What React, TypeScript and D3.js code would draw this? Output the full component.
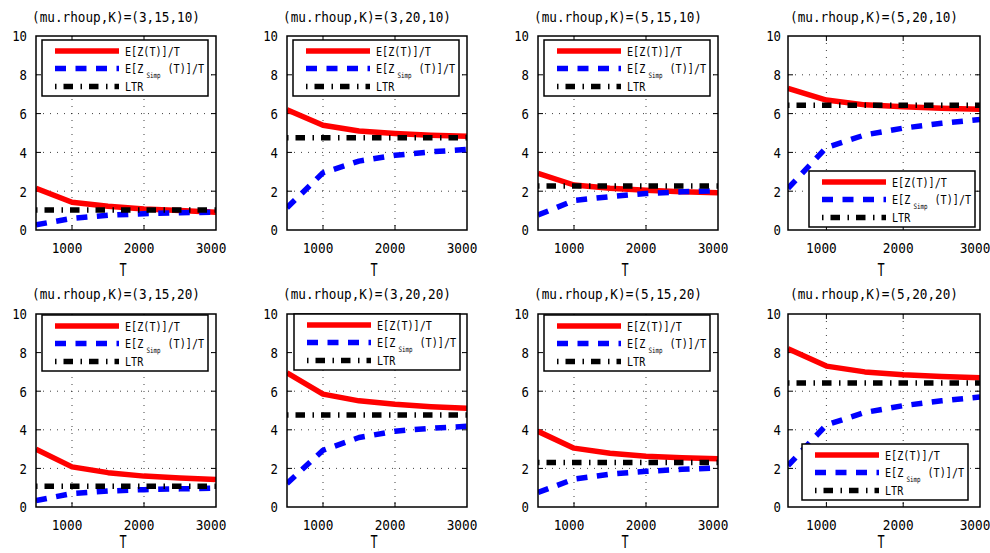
import React from 'react';
import * as d3 from 'd3';

// ---- data ----
const T_VALUES = [500, 1000, 1500, 2000, 2500, 3000];
const X_TICKS = [1000, 2000, 3000];
const Y_TICKS = [0, 2, 4, 6, 8, 10];
const GRID_X = [1000, 2000];
const GRID_Y = [2, 4, 6, 8];

const PANEL_TITLES = [
  '(mu.rhoup,K)=(3,15,10)',
  '(mu.rhoup,K)=(3,20,10)',
  '(mu.rhoup,K)=(5,15,10)',
  '(mu.rhoup,K)=(5,20,10)',
  '(mu.rhoup,K)=(3,15,20)',
  '(mu.rhoup,K)=(3,20,20)',
  '(mu.rhoup,K)=(5,15,20)',
  '(mu.rhoup,K)=(5,20,20)',
];

// E[Z(T)]/T
const EZ_T = [
  [2.15, 1.43, 1.22, 1.08, 1.0, 0.92],
  [6.2, 5.4, 5.1, 4.97, 4.88, 4.83],
  [2.92, 2.32, 2.15, 2.05, 1.97, 1.92],
  [7.3, 6.7, 6.45, 6.35, 6.27, 6.22],
  [3.0, 2.08, 1.78, 1.6, 1.5, 1.43],
  [6.95, 5.85, 5.5, 5.32, 5.2, 5.12],
  [3.92, 3.05, 2.78, 2.63, 2.55, 2.5],
  [8.2, 7.3, 7.0, 6.85, 6.76, 6.7],
];

// E[Z_Simp(T)]/T
const EZ_SIMP = [
  [0.27, 0.6, 0.76, 0.84, 0.89, 0.92],
  [1.15, 2.95, 3.55, 3.85, 4.03, 4.15],
  [0.77, 1.52, 1.72, 1.88, 1.97, 2.03],
  [2.15, 4.25, 4.9, 5.25, 5.5, 5.7],
  [0.33, 0.7, 0.83, 0.9, 0.94, 0.98],
  [1.22, 2.94, 3.6, 3.93, 4.08, 4.18],
  [0.75, 1.45, 1.7, 1.85, 1.95, 2.03],
  [2.15, 4.25, 4.9, 5.25, 5.5, 5.7],
];

// LTR
const LTR = [1.03, 4.75, 2.27, 6.43, 1.08, 4.77, 2.3, 6.43];

// ---- layout ----
const COLS = [
  [36, 216],
  [287, 467],
  [538, 718],
  [788, 980],
];
const ROWS = [
  { top: 36, bottom: 230, title: 22, tick: 253, label: 276 },
  { top: 314, bottom: 507, title: 299, tick: 530, label: 548 },
];
const LEGEND_POS = [
  [42, 40],
  [293, 40],
  [544, 40],
  [809, 171],
  [42, 315],
  [294, 314],
  [544, 315],
  [802, 444],
];
const LEG_W = 166;
const LEG_H = 56;

const FONT = '"DejaVu Sans Mono", monospace';
const RED = '#ff0000';
const BLUE = '#0000ff';
const LW = 5.5;
const BLUE_DASH = '11,9.5';
const BLACK_DASH = '1.5,7,9.5,7.5';

function STxt(props: {
  x: number;
  y: number;
  sx: number;
  size: number;
  anchor?: string;
  children: React.ReactNode;
}) {
  const { x, y, sx, size, anchor, children } = props;
  return (
    <text
      transform={`translate(${x},${y}) scale(${sx},1)`}
      fontFamily={FONT}
      fontSize={size}
      textAnchor={anchor || 'start'}
      fill="#000"
    >
      {children}
    </text>
  );
}

function Panel({ idx }: { idx: number }) {
  const col = COLS[idx % 4];
  const row = ROWS[Math.floor(idx / 4)];
  const x = d3.scaleLinear().domain([500, 3000]).range([col[0], col[1]]);
  const y = d3.scaleLinear().domain([0, 10]).range([row.bottom, row.top]);
  const line = d3
    .line<number>()
    .x((_, i) => x(T_VALUES[i]))
    .y((d) => y(d));
  const ltrLine = d3
    .line<number>()
    .x((d) => x(d))
    .y(() => y(LTR[idx]));
  const clipId = `clip${idx}`;
  const cx = (col[0] + col[1]) / 2;
  const [lx, ly] = LEGEND_POS[idx];
  const tick = 5;
  return (
    <g>
      <defs>
        <clipPath id={clipId}>
          <rect x={col[0]} y={row.top} width={col[1] - col[0]} height={row.bottom - row.top} />
        </clipPath>
      </defs>
      {/* grid */}
      {GRID_X.map((g) => (
        <line
          key={'gx' + g}
          x1={x(g)}
          x2={x(g)}
          y1={row.top}
          y2={row.bottom}
          stroke="#000"
          strokeWidth={1}
          strokeDasharray="1,6"
          opacity={0.75}
        />
      ))}
      {GRID_Y.map((g) => (
        <line
          key={'gy' + g}
          x1={col[0]}
          x2={col[1]}
          y1={y(g)}
          y2={y(g)}
          stroke="#000"
          strokeWidth={1}
          strokeDasharray="1,6"
          opacity={0.75}
        />
      ))}
      {/* ticks */}
      {GRID_X.map((g) => (
        <g key={'tx' + g}>
          <line x1={x(g)} x2={x(g)} y1={row.bottom} y2={row.bottom - tick} stroke="#000" strokeWidth={1} />
          <line x1={x(g)} x2={x(g)} y1={row.top} y2={row.top + tick} stroke="#000" strokeWidth={1} />
        </g>
      ))}
      {GRID_Y.map((g) => (
        <g key={'ty' + g}>
          <line x1={col[0]} x2={col[0] + tick} y1={y(g)} y2={y(g)} stroke="#000" strokeWidth={1} />
          <line x1={col[1]} x2={col[1] - tick} y1={y(g)} y2={y(g)} stroke="#000" strokeWidth={1} />
        </g>
      ))}
      {/* series */}
      <g clipPath={`url(#${clipId})`}>
        <path d={line(EZ_T[idx]) || ''} fill="none" stroke={RED} strokeWidth={LW} strokeLinejoin="round" />
        <path
          d={line(EZ_SIMP[idx]) || ''}
          fill="none"
          stroke={BLUE}
          strokeWidth={LW}
          strokeDasharray={BLUE_DASH}
          strokeLinejoin="round"
        />
        <path
          d={ltrLine([x.domain()[0], x.domain()[1]]) || ''}
          fill="none"
          stroke="#000"
          strokeWidth={LW}
          strokeDasharray={BLACK_DASH}
        />
      </g>
      {/* frame */}
      <rect
        x={col[0]}
        y={row.top}
        width={col[1] - col[0]}
        height={row.bottom - row.top}
        fill="none"
        stroke="#000"
        strokeWidth={1.5}
      />
      {/* legend */}
      <g>
        <rect x={lx} y={ly} width={LEG_W} height={LEG_H} fill="#fff" stroke="#000" strokeWidth={1.5} />
        <line x1={lx + 13} x2={lx + 77} y1={ly + 11} y2={ly + 11} stroke={RED} strokeWidth={LW} />
        <line
          x1={lx + 13}
          x2={lx + 77}
          y1={ly + 28.5}
          y2={ly + 28.5}
          stroke={BLUE}
          strokeWidth={LW}
          strokeDasharray={BLUE_DASH}
        />
        <line
          x1={lx + 13}
          x2={lx + 77}
          y1={ly + 46.5}
          y2={ly + 46.5}
          stroke="#000"
          strokeWidth={LW}
          strokeDasharray={BLACK_DASH}
        />
        <STxt x={lx + 83} y={ly + 15.5} sx={0.78} size={13}>
          E[Z(T)]/T
        </STxt>
        <STxt x={lx + 83} y={ly + 33} sx={0.78} size={13}>
          <tspan>E[Z</tspan>
          <tspan dx={4} dy={5} fontSize={7.5}>
            Simp
          </tspan>
          <tspan dx={9} dy={-5}>
            (T)]/T
          </tspan>
        </STxt>
        <STxt x={lx + 83} y={ly + 51} sx={0.78} size={13}>
          LTR
        </STxt>
      </g>
      {/* axes labels */}
      {Y_TICKS.map((t) => (
        <STxt key={'yl' + t} x={col[0] - (idx % 4 === 3 ? 7 : 9)} y={y(t) + 5.3} sx={0.85} size={14.5} anchor="end">
          {t}
        </STxt>
      ))}
      {X_TICKS.map((t) => (
        <STxt key={'xl' + t} x={x(t) - 5} y={row.tick} sx={0.88} size={14.5} anchor="middle">
          {t}
        </STxt>
      ))}
      <STxt x={cx - 3} y={row.label} sx={0.7} size={17} anchor="middle">
        T
      </STxt>
      <STxt x={cx - 10} y={row.title} sx={0.94} size={13.5} anchor="middle">
        {PANEL_TITLES[idx]}
      </STxt>
    </g>
  );
}

export default function App() {
  return (
    <svg
      width={990}
      height={553}
      viewBox="0 0 990 553"
      style={{ position: 'absolute', left: 0, top: 0, background: '#fff' }}
    >
      <rect x={0} y={0} width={990} height={553} fill="#fff" />
      {PANEL_TITLES.map((_, i) => (
        <Panel key={i} idx={i} />
      ))}
    </svg>
  );
}
